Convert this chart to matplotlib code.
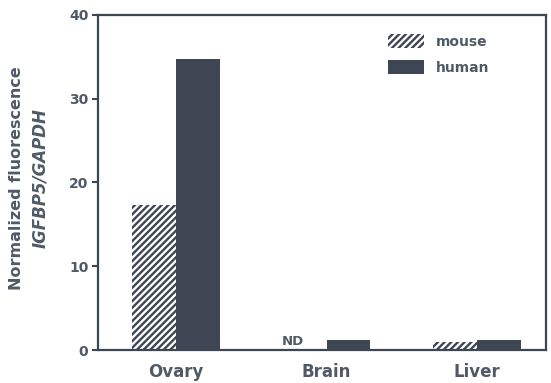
import matplotlib
matplotlib.use("Agg")
import matplotlib.pyplot as plt
import numpy as np
from matplotlib.patches import Patch

categories = ["Ovary", "Brain", "Liver"]
mouse = [17.3, 0.0, 1.0]
human = [34.8, 1.2, 1.2]
series_names = ["mouse", "human"]
yticks = [0, 10, 20, 30, 40]

dark = "#3d4652"
txt = "#505a66"
plt.rcParams['font.family'] = ['DejaVu Sans']
plt.rcParams['font.weight'] = 'bold'
plt.rcParams['hatch.linewidth'] = 1.7
plt.rcParams['hatch.color'] = dark

fig = plt.figure(figsize=(5.51, 3.83), dpi=100)
ax = fig.add_axes([0.178, 0.086, 0.813, 0.875])

x = np.arange(len(categories))
w = 0.29
ax.bar(x - w/2, mouse, w, facecolor="white", edgecolor=dark, hatch="/////", linewidth=0)
ax.bar(x + w/2, human, w, color=dark, linewidth=0)
ax.text(x[1] - w/2 - 0.08, 0.3, "ND", ha="center", va="bottom", fontsize=9.5, color=txt, fontweight="bold")

ax.set_xlim(-0.518, 2.458)
ax.set_ylim(0, 40)
ax.set_yticks(yticks)
ax.set_yticklabels([str(t) for t in yticks], fontsize=10, color=txt, fontweight="bold")
ax.set_xticks(x)
ax.set_xticklabels(categories, fontsize=12, color=txt, fontweight="bold")
ax.tick_params(axis='x', length=0, pad=9)
ax.tick_params(axis='y', length=4, width=1.5, color=dark, pad=3)
for s in ax.spines.values():
    s.set_color(dark)
    s.set_linewidth(1.6)

fig.text(0.03, 0.535, "Normalized fluorescence", rotation=90, ha="center", va="center",
         fontsize=11.5, color=txt, fontweight="bold")
fig.text(0.073, 0.535, "IGFBP5/GAPDH", rotation=90, ha="center", va="center",
         fontsize=12, color=txt, fontweight="bold", fontstyle="italic")

handles = [Patch(facecolor="white", edgecolor=dark, hatch="/////", linewidth=0),
           Patch(facecolor=dark, linewidth=0)]
leg = ax.legend(handles, series_names, loc="upper left", bbox_to_anchor=(0.62, 0.98),
                frameon=False, handlelength=2.6, handleheight=1.2, fontsize=10,
                labelspacing=0.8, handletextpad=0.8)
for t in leg.get_texts():
    t.set_color(txt)
    t.set_fontweight("bold")

fig.savefig("out.png", dpi=100)
